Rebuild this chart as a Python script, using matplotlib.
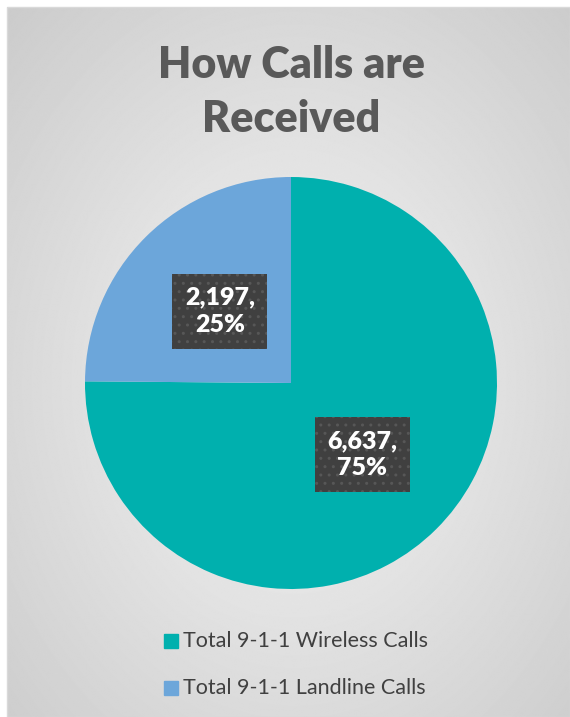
import matplotlib.pyplot as plt
import numpy as np

labels = ["Total 9-1-1 Wireless Calls", "Total 9-1-1 Landline Calls"]
calls = [6637, 2197]
colors = ["#00B0AE", "#6CA6DA"]

plt.rcParams["font.family"] = ["Lato", "DejaVu Sans"]

W, H = 570, 717
fig = plt.figure(figsize=(W / 100, H / 100), dpi=100)

# background: white margin and radial gray gradient
bg = fig.add_axes([0, 0, 1, 1])
bg.set_xlim(0, W)
bg.set_ylim(H, 0)
bg.axis("off")
yy, xx = np.mgrid[0:H, 0:W]
dist = np.sqrt(((xx - 290) / 330) ** 2 + ((yy - 380) / 420) ** 2)
shade = np.clip(0.96 - 0.13 * dist, 0.80, 0.965)
bg.imshow(shade, cmap="gray", vmin=0, vmax=1, extent=(7, W, H, 7), zorder=1)
bg.add_patch(plt.Rectangle((0, 0), W, H, color="white", zorder=0))
bg.add_patch(plt.Rectangle((7, 7), W - 7, H - 7, fill=False, ec="#d9d9d9", lw=1, zorder=2))

fig.text(291 / W, 1 - 92 / H, "How Calls are\nReceived", ha="center", va="center",
         fontsize=31, fontweight="heavy", color="#595959", linespacing=1.4)

# pie
cx, cy, r = 291, 383, 206
ax = fig.add_axes([(cx - r) / W, 1 - (cy + r) / H, 2 * r / W, 2 * r / H])
wedges, _ = ax.pie(calls, colors=colors, startangle=90, counterclock=False, radius=1,
                   wedgeprops=dict(linewidth=0))
ax.set_xlim(-1, 1)
ax.set_ylim(-1, 1)
ax.set_aspect("equal")

total = sum(calls)
for w, v in zip(wedges, calls):
    mid = np.deg2rad((w.theta1 + w.theta2) / 2)
    x, y = 0.49 * np.cos(mid), 0.49 * np.sin(mid)
    ax.text(x, y, f"{v:,},\n{v / total:.0%}", ha="center", va="center", fontsize=18,
            fontweight="heavy", color="white", linespacing=1.3, zorder=5,
            bbox=dict(boxstyle="square,pad=0.5", fc="#404040", ec="#575757", hatch="..", lw=0))

# legend
for i, (lab, c) in enumerate(zip(labels, colors)):
    ly = 1 - (641 + 47 * i) / H
    fig.patches.append(plt.Rectangle((164 / W, ly - 7 / H), 14 / W, 14 / H, color=c,
                                     transform=fig.transFigure, figure=fig))
    fig.text(183 / W, ly, lab, ha="left", va="center", fontsize=15.5, color="#404040")

fig.savefig("out.png", dpi=100)
